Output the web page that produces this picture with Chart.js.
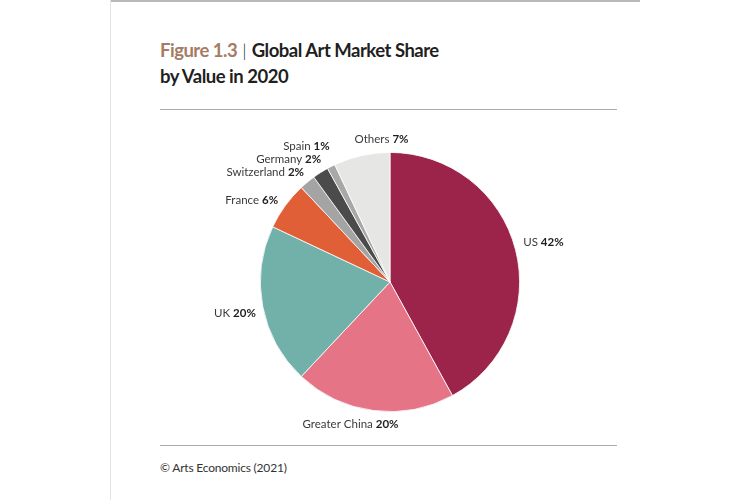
<!DOCTYPE html>
<html>
<head>
<meta charset="utf-8">
<script src="https://cdn.jsdelivr.net/npm/chart.js@4.4.1/dist/chart.umd.min.js"></script>
<style>
  html, body { margin: 0; padding: 0; background: #ffffff; }
  body { width: 750px; height: 500px; position: relative; overflow: hidden; font-family: Lato, "Open Sans", sans-serif; }
  #frameTop { position: absolute; left: 110px; top: 0; width: 530px; height: 2px; background: #b8b8b8; }
  #frameLeft { position: absolute; left: 110px; top: 0; width: 1px; height: 500px; background: #e4e4e4; }
  .rule { position: absolute; left: 160px; width: 457px; height: 1px; background: #adadad; }
  #title { position: absolute; left: 160px; top: 37px; font-size: 18.5px; font-weight: 700; line-height: 26px; color: #1f1f1f; letter-spacing: -0.5px; }
  #title .fig { color: #a57c63; }
  #title .bar { font-weight: 300; color: #1f1f1f; letter-spacing: 0; }
  #source { position: absolute; left: 160px; top: 460px; font-size: 12px; color: #333; letter-spacing: -0.2px; }
  #wrap { position: absolute; left: 160px; top: 117px; width: 460px; height: 330px; }
</style>
</head>
<body>
<div id="frameTop"></div>
<div id="frameLeft"></div>
<div id="title"><span class="fig">Figure 1.3</span><span class="bar"> | </span>Global Art Market Share<br>by Value in 2020</div>
<div class="rule" style="top:109px"></div>
<div class="rule" style="top:445px"></div>
<div id="source">© Arts Economics (2021)</div>
<div id="wrap"><canvas id="c" width="460" height="330"></canvas></div>
<script>
const categories = ["US", "Greater China", "UK", "France", "Switzerland", "Germany", "Spain", "Others"];
const shares = [42, 20, 20, 6, 2, 2, 1, 7];
const valueLabels = ["42%", "20%", "20%", "6%", "2%", "2%", "1%", "7%"];
const colors = ["#9c2349", "#e57487", "#72b1a9", "#e15f37", "#a4a4a4", "#4b4b4b", "#a8a8a8", "#e6e6e4"];

// label placement tweaks (alignment + pixel nudge from radial anchor)
const labelStyle = {
  "US":            { align: "left",   dx: -2, dy: -5 },
  "Greater China": { align: "center", dx: -22, dy: 4 },
  "UK":            { align: "right",  dx: 3,  dy: 5 },
  "France":        { align: "right",  dx: 1,  dy: 0 },
  "Switzerland":   { align: "right",  dx: 3,  dy: -2 },
  "Germany":       { align: "right",  dx: 6,  dy: -5 },
  "Spain":         { align: "right",  dx: 3,  dy: -11 },
  "Others":        { align: "left",   dx: -5, dy: -6 }
};

const pieLabels = {
  id: "pieLabels",
  afterDatasetsDraw(chart) {
    const ctx = chart.ctx;
    const meta = chart.getDatasetMeta(0);
    const fam = 'Lato, "Open Sans", sans-serif';
    const size = "11.5px ";
    ctx.save();
    ctx.textBaseline = "middle";
    meta.data.forEach((arc, i) => {
      const p = arc.getProps(["x", "y", "startAngle", "endAngle", "outerRadius"], true);
      const mid = (p.startAngle + p.endAngle) / 2;
      const r = p.outerRadius + 10;
      const st = labelStyle[categories[i]];
      const x = p.x + Math.cos(mid) * r + st.dx;
      const y = p.y + Math.sin(mid) * r + st.dy;
      const name = categories[i] + " ";
      const val = valueLabels[i];
      ctx.font = "400 " + size + fam;
      const wn = ctx.measureText(name).width;
      ctx.font = "700 " + size + fam;
      const wv = ctx.measureText(val).width;
      const total = wn + wv;
      let left = x;
      if (st.align === "right") left = x - total;
      else if (st.align === "center") left = x - total / 2;
      ctx.textAlign = "left";
      ctx.font = "400 " + size + fam;
      ctx.fillStyle = "#3a3a3a";
      ctx.fillText(name, left, y);
      ctx.font = "700 " + size + fam;
      ctx.fillStyle = "#1e1e1e";
      ctx.fillText(val, left + wn, y);
    });
    ctx.restore();
  }
};

new Chart(document.getElementById("c"), {
  type: "pie",
  data: {
    labels: categories,
    datasets: [{
      data: shares,
      backgroundColor: colors,
      borderColor: "#ffffff",
      borderWidth: 0.8
    }]
  },
  options: {
    responsive: false,
    animation: false,
    layout: { padding: 35 },
    plugins: {
      legend: { display: false },
      tooltip: { enabled: false }
    }
  },
  plugins: [pieLabels]
});
</script>
</body>
</html>
